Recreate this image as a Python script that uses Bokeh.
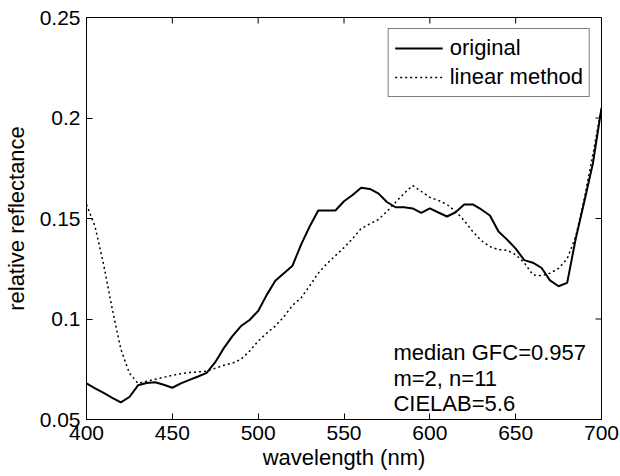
import math
from bokeh.plotting import figure
from bokeh.models import (Range1d, FixedTicker, Label, Legend, LegendItem,
                          ColumnDataSource)
from bokeh.embed import file_html
from bokeh.resources import INLINE

# ---- data ----
wavelength = list(range(400, 701, 5))
original = [
    0.0680, 0.0655, 0.0632, 0.0608, 0.0585,
    0.0612, 0.0670, 0.0682, 0.0685, 0.0673,
    0.0658, 0.0680, 0.0697, 0.0714, 0.0732,
    0.0785, 0.0855, 0.0915, 0.0965, 0.0995,
    0.1040, 0.1120, 0.1190, 0.1228, 0.1265,
    0.1370, 0.1460, 0.1540, 0.1540, 0.1540,
    0.1586, 0.1617, 0.1653, 0.1647, 0.1625,
    0.1582, 0.1556, 0.1556, 0.1550, 0.1528,
    0.1550, 0.1530, 0.1510, 0.1531, 0.1570,
    0.1570, 0.1545, 0.1515, 0.1435, 0.1395,
    0.1350, 0.1293, 0.1280, 0.1255, 0.1192,
    0.1163, 0.1180, 0.1400, 0.1585, 0.1775,
    0.2050,
]
linear_method = [
    0.1570, 0.1460, 0.1270, 0.1050, 0.0850,
    0.0730, 0.0680, 0.0690, 0.0700, 0.0710,
    0.0720, 0.0728, 0.0734, 0.0737, 0.0740,
    0.0755, 0.0770, 0.0780, 0.0800, 0.0840,
    0.0890, 0.0930, 0.0965, 0.1012, 0.1068,
    0.1105, 0.1165, 0.1228, 0.1275, 0.1315,
    0.1355, 0.1400, 0.1450, 0.1473, 0.1495,
    0.1535, 0.1580, 0.1625, 0.1664, 0.1635,
    0.1605, 0.1590, 0.1570, 0.1535, 0.1490,
    0.1435, 0.1390, 0.1360, 0.1345, 0.1342,
    0.1320, 0.1280, 0.1220, 0.1215, 0.1228,
    0.1252, 0.1300, 0.1410, 0.1600, 0.1820,
    0.2050,
]
x_ticks = [400, 450, 500, 550, 600, 650, 700]
y_ticks = [0.05, 0.1, 0.15, 0.2, 0.25]
y_tick_labels = ["0.05", "0.1", "0.15", "0.2", "0.25"]
series_names = ["original", "linear method"]
annotation_lines = ["median GFC=0.957", "m=2, n=11", "CIELAB=5.6"]
annotation_x = 578.8
annotation_y = [0.0835, 0.0705, 0.0578]

FONT = "Liberation Sans"
TICK_FS = "21px"
TEXT_FS = "22px"

p = figure(width=620, height=476, output_backend="svg", toolbar_location=None,
           x_range=Range1d(x_ticks[0], x_ticks[-1]),
           y_range=Range1d(y_ticks[0], y_ticks[-1]),
           min_border_left=86, min_border_right=19, min_border_top=17,
           min_border_bottom=57)
p.background_fill_color = "white"
p.border_fill_color = "white"
p.outline_line_color = "black"
p.outline_line_width = 1
p.grid.visible = False

src = ColumnDataSource(dict(x=wavelength, o=original, l=linear_method))
r1 = p.line("x", "o", source=src, line_color="black", line_width=2)
r2 = p.line("x", "l", source=src, line_color="black", line_width=1.5, line_dash="2 3")

# inward ticks on the top and right edges of the box (clipped to the frame)
p.scatter(x=x_ticks, y=[y_ticks[-1]] * len(x_ticks), marker="dash", size=12,
          angle=math.pi / 2, line_color="black", line_width=1)
p.scatter(x=[x_ticks[-1]] * len(y_ticks), y=y_ticks, marker="dash", size=12,
          angle=0, line_color="black", line_width=1)


def style_axis(ax, ticks):
    ax.ticker = FixedTicker(ticks=ticks)
    ax.axis_line_color = "black"
    ax.major_tick_line_color = "black"
    ax.major_tick_in = 6
    ax.major_tick_out = 0
    ax.minor_tick_line_color = None
    ax.major_label_text_font = FONT
    ax.major_label_text_font_size = TICK_FS
    ax.major_label_text_color = "black"
    ax.axis_label_text_font = FONT
    ax.axis_label_text_font_size = TEXT_FS
    ax.axis_label_text_font_style = "normal"
    ax.axis_label_text_color = "black"


xa = p.xaxis[0]
style_axis(xa, x_ticks)
xa.axis_label = "wavelength (nm)"
xa.major_label_standoff = 6
xa.axis_label_standoff = 2

ya = p.yaxis[0]
style_axis(ya, y_ticks)
ya.axis_label = "relative reflectance"
ya.major_label_standoff = 6
ya.axis_label_standoff = 8
ya.major_label_overrides = {t: s for t, s in zip(y_ticks, y_tick_labels)}

legend = Legend(items=[LegendItem(label=series_names[0], renderers=[r1]),
                       LegendItem(label=series_names[1], renderers=[r2])],
                location="top_right", margin=11)
legend.border_line_color = "black"
legend.border_line_width = 1
legend.background_fill_color = "white"
legend.background_fill_alpha = 1
legend.label_text_font = FONT
legend.label_text_font_size = TEXT_FS
legend.label_text_color = "black"
legend.glyph_width = 48
legend.glyph_height = 22
legend.label_height = 22
legend.label_standoff = 7
legend.padding = 6
legend.spacing = 3
p.add_layout(legend)

for txt, yy in zip(annotation_lines, annotation_y):
    p.add_layout(Label(x=annotation_x, y=yy, text=txt, text_font=FONT,
                       text_font_size=TEXT_FS, text_color="black",
                       text_baseline="alphabetic", text_align="left"))

open("out.html", "w").write(file_html(p, INLINE))
